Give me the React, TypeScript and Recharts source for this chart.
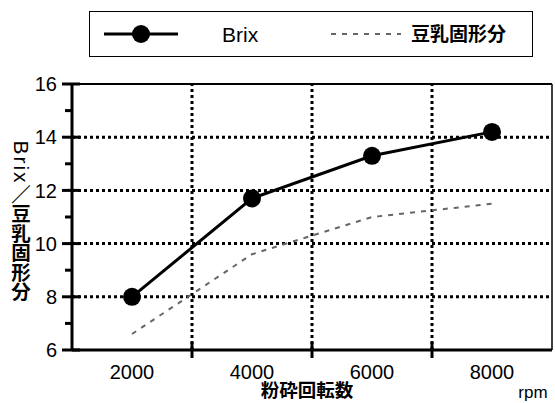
import React from "react";
import { LineChart, Line, XAxis, YAxis, ReferenceLine, Legend, Label } from "recharts";

const rpm = [2000, 4000, 6000, 8000];
const brix = [8.0, 11.7, 13.3, 14.2];
const solids = [6.6, 9.6, 11.0, 11.5];

const xTicks = [2000, 3000, 4000, 5000, 6000, 7000, 8000];
const yTicks = [6, 7, 8, 9, 10, 11, 12, 13, 14, 15, 16];
const xGrid = [3000, 5000, 7000];
const yGrid = [8, 10, 12, 14];

const data = rpm.map((r, i) => ({ rpm: r, brix: brix[i], solids: solids[i] }));

const FONT = "'Liberation Sans', Arial, 'Noto Sans CJK JP', sans-serif";
const CJK = "'Noto Sans CJK JP', sans-serif";

function XTick(props: any) {
  const { x, y, payload } = props;
  const v = payload.value;
  if (v % 2000 === 0) {
    return (
      <text x={x} y={y + 29} textAnchor="middle" fontSize={20} fontFamily={FONT} fill="#000">
        {v}
      </text>
    );
  }
  return <line x1={x} x2={x} y1={y - 8} y2={y + 8} stroke="#000" strokeWidth={3} />;
}

function YTick(props: any) {
  const { x, y, payload } = props;
  const v = payload.value;
  if (v % 2 === 0) {
    return (
      <g>
        <line x1={x - 10} x2={x + 8} y1={y} y2={y} stroke="#000" strokeWidth={3} />
        <text x={x - 15} y={y} dy="0.36em" textAnchor="end" fontSize={20} fontFamily={FONT} fill="#000">
          {v}
        </text>
      </g>
    );
  }
  return <line x1={x - 7} x2={x} y1={y} y2={y} stroke="#000" strokeWidth={3} />;
}

function YTitle() {
  return (
    <text
      x={21}
      y={221}
      textAnchor="middle"
      fontSize={21}
      fontFamily={FONT}
      fill="#000"
      style={{ writingMode: "vertical-rl" }}
    >
      <tspan letterSpacing={2}>Brix</tspan>
      <tspan fontFamily={CJK} fontWeight="bold" fontSize={19.5}>／豆乳固形分</tspan>
    </text>
  );
}

function XTitle() {
  return (
    <g>
      <text x={307} y={397} textAnchor="middle" fontSize={18.5} fontFamily={CJK} fontWeight="bold" fill="#000">
        粉砕回転数
      </text>
      <text x={533} y={398} textAnchor="middle" fontSize={17} fontFamily={FONT} fill="#000">
        rpm
      </text>
    </g>
  );
}

function LegendBox() {
  return (
    <div
      style={{
        width: 444,
        height: 46,
        border: "1.5px solid #000",
        boxSizing: "border-box",
        position: "relative",
        background: "#fff",
      }}
    >
      <svg width={444} height={46} style={{ position: "absolute", left: -1.5, top: -1.5 }}>
        <line x1={15} x2={89} y1={23} y2={23} stroke="#000" strokeWidth={3} />
        <circle cx={52} cy={23} r={9} fill="#000" />
        <text x={133} y={31} fontSize={21} fontFamily={FONT} fill="#000">
          Brix
        </text>
        <line x1={242} x2={312} y1={23} y2={23} stroke="#666" strokeWidth={2} strokeDasharray="5 6" />
        <text x={322} y={30} fontSize={19} fontFamily={CJK} fontWeight="bold" fill="#000">
          豆乳固形分
        </text>
      </svg>
    </div>
  );
}

export default function App() {
  return (
    <div style={{ position: "absolute", left: 0, top: 0, background: "#fff" }}>
      <LineChart width={555} height={403} data={data} margin={{ top: 84, right: 3, bottom: 0, left: 0 }}>
        <XAxis
          dataKey="rpm"
          type="number"
          domain={[1000, 9000]}
          ticks={xTicks}
          interval={0}
          height={53}
          tickSize={0}
          tickMargin={0}
          tickLine={false}
          axisLine={{ stroke: "#000", strokeWidth: 3 }}
          tick={<XTick />}
        >
          <Label content={<XTitle />} />
        </XAxis>
        <YAxis
          type="number"
          domain={[6, 16]}
          ticks={yTicks}
          interval={0}
          width={72}
          tickSize={0}
          tickMargin={0}
          tickLine={false}
          axisLine={{ stroke: "#000", strokeWidth: 3 }}
          tick={<YTick />}
        >
          <Label content={<YTitle />} />
        </YAxis>
        {yGrid.map((v) => (
          <ReferenceLine key={"y" + v} y={v} stroke="#000" strokeWidth={3} strokeDasharray="3 3" />
        ))}
        {xGrid.map((v) => (
          <ReferenceLine key={"x" + v} x={v} stroke="#000" strokeWidth={3} strokeDasharray="3 3" />
        ))}
        <ReferenceLine y={16} stroke="#000" strokeWidth={2} />
        <ReferenceLine x={9000} stroke="#000" strokeWidth={1.5} />
        <Legend
          verticalAlign="middle"
          align="center"
          layout="horizontal"
          content={<LegendBox />}
          wrapperStyle={{ left: 89, top: 11, width: 444, height: 46 }}
        />
        <Line
          type="linear"
          dataKey="solids"
          stroke="#666"
          strokeWidth={2}
          strokeDasharray="5 6"
          dot={false}
          isAnimationActive={false}
        />
        <Line
          type="linear"
          dataKey="brix"
          stroke="#000"
          strokeWidth={3}
          dot={{ r: 9, fill: "#000", stroke: "#000", strokeWidth: 0 }}
          isAnimationActive={false}
        />
      </LineChart>
    </div>
  );
}
